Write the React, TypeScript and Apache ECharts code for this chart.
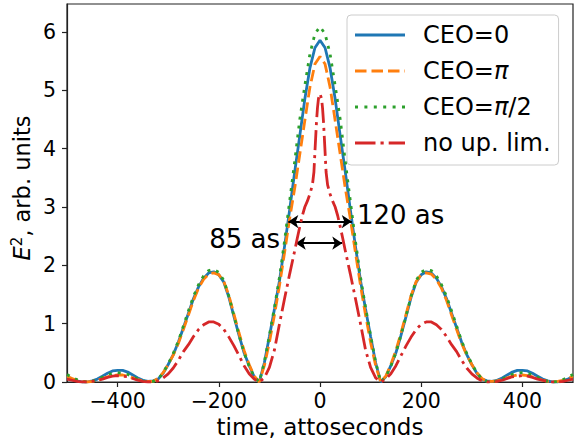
import { useEffect, useRef } from "react";
import * as echarts from "echarts";

// time grid (attoseconds) for the three CEO curves
const tGrid = [
  -500, -490, -480, -470, -460, -450, -440, -430, -420, -410,
  -400, -390, -380, -370, -360, -350, -340, -330, -320, -310,
  -300, -290, -280, -270, -260, -250, -240, -230, -220, -210,
  -200, -190, -180, -170, -160, -150, -140, -130, -120, -110,
  -100, -90, -80, -70, -60, -50, -40, -30, -20, -10,
  0,
  10, 20, 30, 40, 50, 60, 70, 80, 90, 100,
  110, 120, 130, 140, 150, 160, 170, 180, 190, 200,
  210, 220, 230, 240, 250, 260, 270, 280, 290, 300,
  310, 320, 330, 340, 350, 360, 370, 380, 390, 400,
  410, 420, 430, 440, 450, 460, 470, 480, 490, 500,
];

const ceo0 = [
  0.09, 0.05, 0.02, 0.0, 0.0, 0.02, 0.05, 0.1, 0.15, 0.19,
  0.2, 0.2, 0.17, 0.12, 0.07, 0.03, 0.01, 0.02, 0.05, 0.15,
  0.3, 0.47, 0.68, 0.93, 1.18, 1.43, 1.63, 1.78, 1.87, 1.89,
  1.84, 1.71, 1.45, 1.12, 0.8, 0.5, 0.28, 0.09, 0.0, 0.33,
  0.78, 1.25, 1.74, 2.33, 2.95, 3.6, 4.22, 4.85, 5.38, 5.73,
  5.86,
  5.73, 5.38, 4.85, 4.22, 3.6, 2.95, 2.33, 1.74, 1.25, 0.78,
  0.33, 0.0, 0.09, 0.28, 0.5, 0.8, 1.12, 1.45, 1.71, 1.84,
  1.89, 1.87, 1.78, 1.63, 1.43, 1.18, 0.93, 0.68, 0.47, 0.3,
  0.15, 0.05, 0.02, 0.01, 0.03, 0.07, 0.12, 0.17, 0.2, 0.2,
  0.19, 0.15, 0.1, 0.05, 0.02, 0.0, 0.0, 0.02, 0.05, 0.09,
];

const ceoPi = [
  0.1, 0.06, 0.03, 0.01, 0.0, 0.01, 0.03, 0.06, 0.09, 0.11,
  0.12, 0.12, 0.1, 0.07, 0.04, 0.02, 0.01, 0.01, 0.06, 0.16,
  0.3, 0.46, 0.66, 0.9, 1.15, 1.4, 1.61, 1.76, 1.85, 1.87,
  1.84, 1.72, 1.48, 1.16, 0.84, 0.54, 0.3, 0.1, 0.0, 0.28,
  0.68, 1.15, 1.66, 2.22, 2.8, 3.32, 3.9, 4.48, 5.05, 5.45,
  5.58,
  5.45, 5.05, 4.48, 3.9, 3.32, 2.8, 2.22, 1.66, 1.15, 0.68,
  0.28, 0.0, 0.1, 0.3, 0.54, 0.84, 1.16, 1.48, 1.72, 1.84,
  1.87, 1.85, 1.76, 1.61, 1.4, 1.15, 0.9, 0.66, 0.46, 0.3,
  0.16, 0.06, 0.01, 0.01, 0.02, 0.04, 0.07, 0.1, 0.12, 0.12,
  0.11, 0.09, 0.06, 0.03, 0.01, 0.0, 0.01, 0.03, 0.06, 0.1,
];

const ceoPiHalf = [
  0.13, 0.08, 0.04, 0.01, 0.0, 0.01, 0.04, 0.08, 0.12, 0.15,
  0.16, 0.15, 0.13, 0.09, 0.05, 0.02, 0.0, 0.01, 0.05, 0.16,
  0.31, 0.49, 0.7, 0.96, 1.22, 1.47, 1.67, 1.82, 1.91, 1.93,
  1.88, 1.74, 1.47, 1.13, 0.8, 0.5, 0.27, 0.09, 0.0, 0.34,
  0.8, 1.28, 1.8, 2.42, 3.1, 3.78, 4.5, 5.08, 5.62, 5.97,
  6.09,
  5.97, 5.62, 5.08, 4.5, 3.78, 3.1, 2.42, 1.8, 1.28, 0.8,
  0.34, 0.0, 0.09, 0.27, 0.5, 0.8, 1.13, 1.47, 1.74, 1.88,
  1.93, 1.91, 1.82, 1.67, 1.47, 1.22, 0.96, 0.7, 0.49, 0.31,
  0.16, 0.05, 0.01, 0.0, 0.02, 0.05, 0.09, 0.13, 0.15, 0.16,
  0.15, 0.12, 0.08, 0.04, 0.01, 0.0, 0.01, 0.04, 0.08, 0.13,
];

// finer time grid for the "no up. lim." curve (narrow central spike)
const tRed = [
  -500, -490, -480, -470, -460, -450, -440, -430, -420, -410,
  -400, -390, -380, -370, -360, -350, -340, -330, -320, -310,
  -300, -290, -280, -270, -260, -250, -240, -230, -220, -210,
  -200, -190, -180, -170, -160, -150, -140, -130, -120, -110,
  -100, -90, -80, -70, -60, -50, -45, -40, -35, -30,
  -25, -20, -15, -12, -10, -7, -5, -3,
  0,
  3, 5, 7, 10, 12, 15, 20, 25,
  30, 35, 40, 45, 50, 60, 70, 80, 90, 100,
  110, 120, 130, 140, 150, 160, 170, 180, 190, 200,
  210, 220, 230, 240, 250, 260, 270, 280, 290, 300,
  310, 320, 330, 340, 350, 360, 370, 380, 390, 400,
  410, 420, 430, 440, 450, 460, 470, 480, 490, 500,
];

const noUpLim = [
  0.05, 0.03, 0.01, 0.0, 0.0, 0.01, 0.03, 0.05, 0.08, 0.1,
  0.11, 0.1, 0.09, 0.06, 0.03, 0.01, 0.0, 0.0, 0.02, 0.07,
  0.14, 0.24, 0.37, 0.52, 0.64, 0.78, 0.9, 0.98, 1.03, 1.03,
  0.99, 0.9, 0.77, 0.62, 0.45, 0.28, 0.14, 0.05, 0.0, 0.07,
  0.25, 0.55, 1.0, 1.43, 1.85, 2.25, 2.46, 2.66, 2.85, 3.0,
  3.1, 3.22, 3.38, 3.6, 3.95, 4.45, 4.7, 4.86,
  4.94,
  4.86, 4.7, 4.45, 3.95, 3.6, 3.38, 3.22, 3.1,
  3.0, 2.85, 2.66, 2.46, 2.25, 1.85, 1.43, 1.0, 0.55, 0.25,
  0.07, 0.0, 0.05, 0.14, 0.28, 0.45, 0.62, 0.77, 0.9, 0.99,
  1.03, 1.03, 0.98, 0.9, 0.78, 0.64, 0.52, 0.37, 0.24, 0.14,
  0.07, 0.02, 0.0, 0.0, 0.01, 0.03, 0.06, 0.09, 0.1, 0.11,
  0.1, 0.08, 0.05, 0.03, 0.01, 0.0, 0.0, 0.01, 0.03, 0.05,
];

const xTicks = [-400, -200, 0, 200, 400];
const yTicks = [0, 1, 2, 3, 4, 5, 6];
const seriesNames = ["CEO=0", "CEO=π", "CEO=π/2", "no up. lim."];
const seriesColors = ["#1f77b4", "#ff7f0e", "#2ca02c", "#d62728"];

// FWHM annotations: [start t, end t, level]
const fwhmLabels = ["120 as", "85 as"];
const fwhmArrows = [
  [-62.6, 62.8, 2.75],
  [-48, 44, 2.38],
];
const fwhmTextAnchors = [
  [72, 2.86],
  [-78, 2.45],
];

const FONT = "DejaVu Sans";
const LW = 2.8;
const LEG_W = 50;
const LEG_H = 3;

// build a legend icon path (rectangles) from a dash pattern, spanning 0..LEG_W
function dashIcon(pattern: number[] | null): string {
  if (!pattern) return `path://M0 0H${LEG_W}V${LEG_H}H0Z`;
  let d = "";
  let x = 0;
  let i = 0;
  while (x < LEG_W) {
    const len = pattern[i % pattern.length];
    if (i % 2 === 0) {
      const end = Math.min(LEG_W, x + len);
      d += `M${x.toFixed(2)} 0H${end.toFixed(2)}V${LEG_H}H${x.toFixed(2)}Z`;
    }
    x += len;
    i++;
  }
  return "path://" + d;
}

export default function App() {
  const ref = useRef<HTMLDivElement>(null);

  useEffect(() => {
    if (!ref.current) return;
    const chart = echarts.init(ref.current, undefined, { renderer: "svg" });

    const lineTypes: any[] = [
      "solid",
      [11.5, 5],
      [3, 6],
      [20, 5, 3, 5],
    ];
    const legendPatterns: (number[] | null)[] = [
      null,
      [11.5, 5],
      [3, 6.4],
      [20.5, 5, 3.2, 5],
    ];
    const curves = [
      { t: tGrid, v: ceo0 },
      { t: tGrid, v: ceoPi },
      { t: tGrid, v: ceoPiHalf },
      { t: tRed, v: noUpLim },
    ];

    const lineSeries: any[] = curves.map((c, k) => ({
      type: "line",
      name: seriesNames[k],
      data: c.t.map((t, i) => [t, c.v[i]]),
      showSymbol: false,
      symbol: "none",
      smooth: false,
      color: seriesColors[k],
      lineStyle: { width: LW, color: seriesColors[k], type: lineTypes[k] },
      itemStyle: { color: seriesColors[k] },
      emphasis: { disabled: true },
      z: 2 + k,
    }));

    lineSeries.push({
      type: "scatter",
      name: "annotations",
      symbolSize: 1,
      itemStyle: { color: "rgba(0,0,0,0)" },
      silent: true,
      z: 10,
      data: fwhmTextAnchors.map((p, i) => ({
        value: p,
        name: fwhmLabels[i],
        label: { position: i === 0 ? "right" : "left" },
      })),
      label: {
        show: true,
        formatter: "{b}",
        distance: 0,
        fontSize: 26,
        fontFamily: FONT,
        color: "#000",
        opacity: 1,
        textBorderWidth: 0,
      },
      markLine: {
        silent: true,
        symbol: ["arrow", "arrow"],
        symbolSize: 10,
        label: { show: false },
        lineStyle: { color: "#000", width: 2, type: "solid" },
        emphasis: { disabled: true },
        data: fwhmArrows.map((a) => [
          { coord: [a[0], a[2]] },
          { coord: [a[1], a[2]] },
        ]),
      },
    });

    const option: any = {
      animation: false,
      backgroundColor: "#fff",
      grid: {
        left: 67,
        right: 1,
        top: 4,
        bottom: 58,
        containLabel: false,
        outerBoundsMode: "none",
        show: true,
        borderColor: "#222",
        borderWidth: 1.2,
        backgroundColor: "transparent",
      },
      legend: {
        data: seriesNames.map((n, k) => ({ name: n, icon: dashIcon(legendPatterns[k]) })),
        orient: "vertical",
        left: 347,
        top: 15,
        padding: [7, 8, 9, 8],
        itemWidth: LEG_W,
        itemHeight: LEG_H,
        itemGap: 10,
        backgroundColor: "rgba(255,255,255,0.8)",
        borderColor: "#cccccc",
        borderWidth: 1,
        borderRadius: 4,
        selectedMode: false,
        formatter: (name: string) => name.replace("π", "{i|π}"),
        textStyle: {
          fontSize: 24,
          fontFamily: FONT,
          color: "#000",
          lineHeight: 26,
          padding: [0, 0, 0, 13],
          rich: {
            i: { fontSize: 24, fontFamily: FONT, fontStyle: "italic", color: "#000" },
          },
        },
      },
      xAxis: {
        type: "value",
        min: -500,
        max: 500,
        splitLine: { show: false },
        axisLine: { show: true, onZero: false, lineStyle: { color: "#222", width: 1.2 } },
        axisTick: {
          show: true,
          length: 5,
          customValues: xTicks,
          lineStyle: { color: "#222", width: 1.2 },
        },
        axisLabel: {
          customValues: xTicks,
          margin: 8,
          fontSize: 20.5,
          fontFamily: FONT,
          color: "#000",
          formatter: (v: number) => (v < 0 ? "\u2212" + Math.abs(v) : String(v)),
        },
        name: "time, attoseconds",
        nameLocation: "middle",
        nameGap: 32,
        nameTextStyle: { fontSize: 23, fontFamily: FONT, color: "#000", lineHeight: 20 },
      },
      yAxis: {
        type: "value",
        min: 0,
        max: 6.48,
        splitLine: { show: false },
        axisLine: { show: true, onZero: false, lineStyle: { color: "#222", width: 1.2 } },
        axisTick: {
          show: true,
          length: 5,
          customValues: yTicks,
          lineStyle: { color: "#222", width: 1.2 },
        },
        axisLabel: {
          customValues: yTicks,
          margin: 11,
          fontSize: 20.5,
          fontFamily: FONT,
          color: "#000",
        },
      },
      graphic: [
        {
          type: "text",
          x: 22,
          y: 188,
          rotation: Math.PI / 2,
          silent: true,
          style: {
            text: "{e|E}{s|2}{n|, arb. units}",
            align: "center",
            verticalAlign: "middle",
            fill: "#000",
            rich: {
              e: { fontSize: 22.5, fontFamily: FONT, fontStyle: "italic", lineHeight: 26, fill: "#000" },
              s: { fontSize: 15, fontFamily: FONT, verticalAlign: "top", lineHeight: 14, fill: "#000" },
              n: { fontSize: 22.5, fontFamily: FONT, lineHeight: 26, fill: "#000" },
            },
          },
        },
      ],
      series: lineSeries,
    };

    chart.setOption(option);
    return () => chart.dispose();
  }, []);

  return (
    <div
      ref={ref}
      style={{ position: "absolute", left: 0, top: 0, width: 574, height: 440 }}
    />
  );
}
